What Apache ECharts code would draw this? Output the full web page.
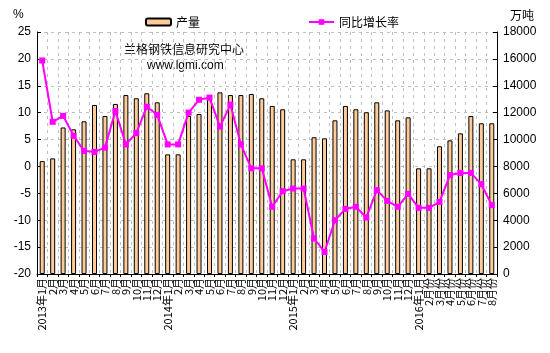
<!DOCTYPE html>
<html>
<head>
<meta charset="utf-8">
<script src="https://cdn.jsdelivr.net/npm/echarts@6/dist/echarts.min.js"></script>
<style>
  html, body { margin: 0; padding: 0; background: #fff; }
  #chart { width: 550px; height: 353px; }
</style>
</head>
<body>
<div id="chart"></div>
<script>
const categories = [
  "2013年1月", "2月", "3月", "4月", "5月", "6月", "7月", "8月", "9月", "10月", "11月", "12月",
  "2014年1月", "2月", "3月", "4月", "5月", "6月", "7月", "8月", "9月", "10月", "11月", "12月",
  "2015年1月", "2月", "3月", "4月", "5月", "6月", "7月", "8月", "9月", "10月", "11月", "12月",
  "2016年1月", "2月份", "3月份", "4月份", "5月份", "6月份", "7月份", "8月份"
];

// 产量, 万吨 (right axis)
const output = [
  8400, 8600, 10900, 10760, 11360, 12570, 11750, 12650, 13310, 13070, 13440, 12770,
  8900, 8900, 11750, 11900, 13250, 13510, 13310, 13310, 13390, 13070, 12500, 12250,
  8530, 8530, 10170, 10090, 11430, 12500, 12250, 12030, 12770, 12170, 11430, 11650,
  7860, 7860, 9500, 9940, 10460, 11750, 11210, 11210
];

// 同比增长率, % (left axis)
const growth = [
  19.7, 8.3, 9.4, 5.7, 2.9, 2.7, 3.5, 10.3, 4.1, 6.2, 11.1, 9.6,
  4.1, 4.1, 10.0, 12.4, 12.8, 7.4, 11.5, 4.1, -0.35, -0.35, -7.5, -4.6,
  -4.1, -4.1, -13.4, -15.9, -10.0, -7.9, -7.5, -9.5, -4.4, -6.4, -7.5, -5.1,
  -7.7, -7.7, -6.6, -1.6, -1.2, -1.2, -3.3, -7.2
];

const leftTicks = { min: -20, max: 25, interval: 5 };
const rightTicks = { min: 0, max: 18000, interval: 2000 };

const font = "'Liberation Sans', 'Noto Sans CJK SC', sans-serif";
const cjkFont = "'Noto Sans CJK SC', sans-serif";
const dashed = { type: [3, 4], color: "#BFBFBF", width: 1 };

const chart = echarts.init(document.getElementById("chart"));
chart.setOption({
  animation: false,
  textStyle: { fontFamily: font, color: "#000" },
  grid: { left: 37, right: 53, top: 32, bottom: 79 },
  legend: {
    left: 140,
    top: 11,
    itemGap: 108,
    itemWidth: 25,
    itemHeight: 7,
    textStyle: { fontSize: 12, color: "#000", fontFamily: cjkFont },
    data: ["产量", "同比增长率"]
  },
  graphic: [
    { type: "text", left: 13, top: 9, style: { text: "%", fontSize: 12, fill: "#000", fontFamily: font } },
    { type: "text", left: 510, top: 9, style: { text: "万吨", fontSize: 12, fill: "#000", fontFamily: cjkFont } },
    { type: "text", left: 124, top: 43, style: { text: "兰格钢铁信息研究中心", fontSize: 12, fill: "#000", fontFamily: cjkFont } },
    { type: "text", left: 147, top: 60, style: { text: "www.lgmi.com", fontSize: 12, fill: "#000", fontFamily: font } }
  ],
  xAxis: {
    type: "category",
    data: categories,
    axisLine: { onZero: false, lineStyle: { color: "#000", width: 1 } },
    axisTick: { show: true, interval: 0, length: 3, lineStyle: { color: "#000" } },
    axisLabel: {
      interval: 0,
      rotate: 90,
      fontSize: 11,
      margin: 4,
      color: "#000",
      fontFamily: cjkFont
    },
    splitLine: { show: true, interval: 0, lineStyle: dashed }
  },
  yAxis: [
    {
      type: "value",
      position: "left",
      min: leftTicks.min,
      max: leftTicks.max,
      interval: leftTicks.interval,
      axisLine: { show: true, lineStyle: { color: "#000", width: 1 } },
      axisTick: { show: true, inside: true, length: 4, lineStyle: { color: "#000" } },
      axisLabel: { fontSize: 12, color: "#000", margin: 6 },
      splitLine: { show: true, lineStyle: dashed }
    },
    {
      type: "value",
      position: "right",
      min: rightTicks.min,
      max: rightTicks.max,
      interval: rightTicks.interval,
      axisLine: { show: true, lineStyle: { color: "#000", width: 1 } },
      axisTick: { show: true, inside: true, length: 4, lineStyle: { color: "#000" } },
      axisLabel: { fontSize: 12, color: "#000", margin: 6, formatter: (v) => String(v) },
      splitLine: { show: false }
    }
  ],
  series: [
    {
      name: "产量",
      type: "bar",
      yAxisIndex: 1,
      data: output,
      barWidth: 5,
      itemStyle: { color: "#FFCC99", borderColor: "#000", borderWidth: 1 }
    },
    {
      name: "同比增长率",
      type: "line",
      yAxisIndex: 0,
      data: growth,
      symbol: "rect",
      symbolSize: 6,
      z: 5,
      lineStyle: { color: "#FF00FF", width: 2 },
      itemStyle: { color: "#FF00FF" }
    }
  ]
});
</script>
</body>
</html>
